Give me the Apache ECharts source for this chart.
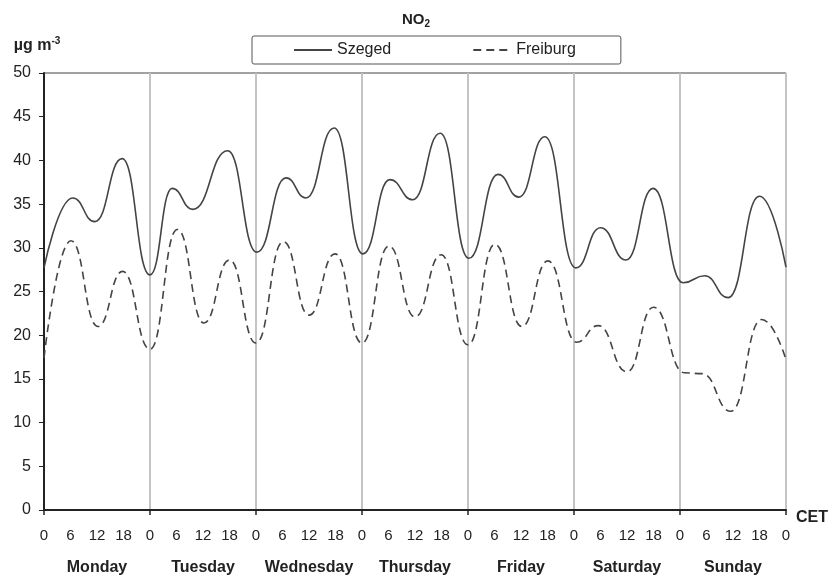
<!DOCTYPE html>
<html lang="en" style="height: 100%">
<head>
  <meta charset="utf-8">
</head>
<body style="height: 100%; margin: 0; background: #fff">
  <div id="container" style="width: 832px; height: 577px"></div>

  <script type="text/javascript" src="https://cdn.jsdelivr.net/npm/echarts@6/dist/echarts.min.js"></script>

  <script type="text/javascript">
    var dom = document.getElementById('container');
    var myChart = echarts.init(dom, null, { renderer: 'canvas' });

// hours since Monday 0:00 CET, NO2 in ug m-3
const days = ['Monday', 'Tuesday', 'Wednesday', 'Thursday', 'Friday', 'Saturday', 'Sunday'];
const szeged = [
  [0, 27.7], [6.5, 35.7], [11.5, 33.0], [17.7, 40.2], [24, 26.9],
  [29, 36.8], [33.7, 34.4], [41.6, 41.1], [48.2, 29.5],
  [54.8, 38.0], [59.3, 35.7], [65.7, 43.7], [72.2, 29.3],
  [78.3, 37.8], [83.5, 35.5], [89.7, 43.1], [96.2, 28.8],
  [102.8, 38.4], [107.5, 35.8], [113.4, 42.7], [120.4, 27.7],
  [126, 32.3], [131.8, 28.6], [137.9, 36.8], [144.7, 26.0],
  [149.6, 26.8], [154.9, 24.3], [162, 35.9], [168, 27.8]
];
const freiburg = [
  [0, 17.4], [6.1, 30.8], [12.2, 21.0], [17.8, 27.3], [24, 18.4],
  [30.2, 32.1], [36.2, 21.4], [42, 28.6], [48, 19.1],
  [54.2, 30.7], [60, 22.3], [65.9, 29.3], [72, 19.1],
  [78.1, 30.2], [84, 22.1], [89.9, 29.2], [96, 18.9],
  [102.1, 30.4], [108.2, 21.0], [114.1, 28.5], [120.6, 19.2],
  [125.5, 21.1], [132, 15.8], [138, 23.2], [145, 15.7],
  [149, 15.6], [155.5, 11.3], [162.5, 21.8], [168, 17.2]
];

const font = 'Liberation Sans, Arial, sans-serif';
const ink = '#222';

var option = {
  animation: false,
  textStyle: { fontFamily: font },
  title: {
    text: 'NO{sub|2}',
    left: 'center',
    top: 6,
    textStyle: {
      fontFamily: font, fontSize: 15, fontWeight: 'bold', color: ink,
      rich: { sub: { fontFamily: font, fontSize: 10, fontWeight: 'bold', color: ink, verticalAlign: 'bottom', padding: [8, 0, 0, 0] } }
    }
  },
  legend: {
    top: 36,
    left: 252,
    padding: [6, 45, 6, 41],
    itemGap: 81,
    itemWidth: 38,
    itemHeight: 14,
    borderColor: '#555',
    borderWidth: 1,
    borderRadius: 2,
    itemStyle: { opacity: 0 },
    textStyle: { fontFamily: font, fontSize: 16, color: ink },
    data: ['Szeged', 'Freiburg']
  },
  grid: {
    left: 44, right: 46, top: 73, bottom: 67,
    show: true, borderColor: '#444', borderWidth: 1
  },
  xAxis: [
    {
      type: 'value', min: 0, max: 168, interval: 6,
      name: 'CET', nameLocation: 'end', nameGap: 10,
      nameTextStyle: { fontFamily: font, fontSize: 16, fontWeight: 'bold', color: ink, verticalAlign: 'top', padding: [0, 0, 0, 0] },
      axisLine: { lineStyle: { color: ink, width: 2 } },
      axisTick: { show: false },
      splitLine: { show: false },
      axisLabel: {
        margin: 18, fontSize: 15, color: ink, showMinLabel: true, showMaxLabel: true,
        formatter: function (v) { return String(v % 24); }
      }
    },
    {
      // day boundaries: ticks + grey verticals
      type: 'value', min: 0, max: 168, interval: 24, position: 'bottom',
      axisLine: { show: false },
      axisTick: { show: true, length: 5, lineStyle: { color: ink, width: 1.5 } },
      axisLabel: { show: false },
      splitLine: { show: true, lineStyle: { color: '#c4c4c4', width: 2 } }
    },
    {
      type: 'category', data: days, position: 'bottom', offset: 42,
      axisLine: { show: false }, axisTick: { show: false },
      splitLine: { show: false },
      axisLabel: { interval: 0, fontSize: 16, fontWeight: 'bold', color: ink }
    }
  ],
  yAxis: {
    type: 'value', min: 0, max: 50, interval: 5,
    name: '\u00b5g m{sup|-3}', nameLocation: 'end', nameGap: 18,
    nameTextStyle: {
      fontFamily: font, fontSize: 16, fontWeight: 'bold', color: ink, align: 'center', padding: [0, 0, 0, -14],
      rich: { sup: { fontFamily: font, fontSize: 10, fontWeight: 'bold', color: ink, verticalAlign: 'top', padding: [0, 0, 9, 0] } }
    },
    axisLine: { show: true, lineStyle: { color: ink, width: 2 } },
    axisTick: { show: true, inside: false, length: 5, lineStyle: { color: ink } },
    splitLine: { show: false },
    axisLabel: { fontSize: 16, color: ink, margin: 13 }
  },
  series: [
    {
      name: 'Szeged', type: 'line', xAxisIndex: 0,
      data: szeged, smooth: 0.5, smoothMonotone: 'x', symbol: 'none', showSymbol: false,
      lineStyle: { color: '#444', width: 1.6 },
      itemStyle: { color: '#444' }
    },
    {
      name: 'Freiburg', type: 'line', xAxisIndex: 0,
      data: freiburg, smooth: 0.5, smoothMonotone: 'x', symbol: 'none', showSymbol: false,
      lineStyle: { color: '#444', width: 1.6, type: [8, 5] },
      itemStyle: { color: '#444' }
    }
  ]
};

    myChart.setOption(option);
    window.addEventListener('resize', myChart.resize);
  </script>
</body>
</html>
